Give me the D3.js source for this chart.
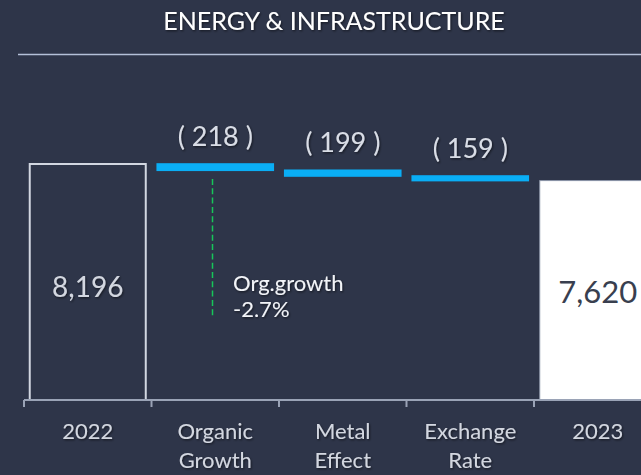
<!DOCTYPE html>
<html>
<head>
<meta charset="utf-8">
<script src="https://cdn.jsdelivr.net/npm/d3@7/dist/d3.min.js"></script>
<style>
  html, body { margin: 0; padding: 0; background: #2e3549; }
  svg { display: block; }
  text { font-family: Lato, "Open Sans", sans-serif; }
</style>
</head>
<body>
<svg id="chart" width="641" height="475"></svg>
<script>
// Waterfall: 2022 sales bridged to 2023 through three negative effects
const categories = ["2022", "Organic Growth", "Metal Effect", "Exchange Rate", "2023"];
const categoryLines = [["2022"], ["Organic", "Growth"], ["Metal", "Effect"], ["Exchange", "Rate"], ["2023"]];
const startValue = 8196;
const deltas = [-218, -199, -159];
const endValue = 7620;
const deltaLabels = ["( 218 )", "( 199 )", "( 159 )"];
const totalLabels = ["8,196", "7,620"];
const organicNote = ["Org.growth", "-2.7%"];
const titleText = "ENERGY & INFRASTRUCTURE";

const W = 641, H = 475;
const svg = d3.select("#chart");

svg.append("rect").attr("width", W).attr("height", H).attr("fill", "#2e3549");

const defs = svg.append("defs");
defs.append("filter").attr("id", "shadow")
  .attr("x", "-10%").attr("y", "-20%").attr("width", "130%").attr("height", "160%")
  .append("feDropShadow")
  .attr("dx", 1).attr("dy", 1.2).attr("stdDeviation", 0.8)
  .attr("flood-color", "#000").attr("flood-opacity", 0.55);

// Title and rule
svg.append("text")
  .attr("x", 334).attr("y", 30)
  .attr("text-anchor", "middle")
  .attr("font-size", 25)
  .attr("fill", "#ffffff")
  .attr("filter", "url(#shadow)")
  .text(titleText);

svg.append("line")
  .attr("x1", 18).attr("x2", W).attr("y1", 54.5).attr("y2", 54.5)
  .attr("stroke", "#b4c0d8").attr("stroke-width", 1.6);

// Scales
const x = d3.scaleBand()
  .domain(categories)
  .range([24, 24 + 127.5 * categories.length])
  .paddingInner(0.09)
  .paddingOuter(0.045);

const y = d3.scaleLinear()
  .domain([0, startValue])
  .range([400, 164]);

// Build the steps of the bridge
let running = startValue;
const steps = deltas.map((d, i) => {
  const from = running;
  running += d;
  return { cat: categories[i + 1], from, to: running, label: deltaLabels[i] };
});

const bw = x.bandwidth();

// Opening total: outlined box
svg.append("rect")
  .attr("x", x(categories[0])).attr("y", y(startValue))
  .attr("width", bw).attr("height", y(0) - y(startValue))
  .attr("fill", "none")
  .attr("stroke", "#d2d7e1").attr("stroke-width", 2);

// Closing total: solid white bar
svg.append("rect")
  .attr("x", x(categories[4])).attr("y", y(endValue))
  .attr("width", bw).attr("height", y(0) - y(endValue))
  .attr("fill", "#ffffff")
  .attr("stroke", "#8a93a6").attr("stroke-width", 1);

// Floating delta bars
svg.selectAll("rect.delta")
  .data(steps)
  .join("rect")
  .attr("class", "delta")
  .attr("x", d => x(d.cat))
  .attr("y", d => y(d.from))
  .attr("width", bw)
  .attr("height", d => y(d.to) - y(d.from))
  .attr("fill", "#0aaef5")
  .attr("stroke", "#0aaef5").attr("stroke-width", 1.6);

// Delta labels above each bar
svg.selectAll("text.dlabel")
  .data(steps)
  .join("text")
  .attr("class", "dlabel")
  .attr("x", d => x(d.cat) + bw / 2)
  .attr("y", d => y(d.from) - 18)
  .attr("text-anchor", "middle")
  .attr("font-size", 27)
  .attr("fill", "#d9dde6")
  .attr("filter", "url(#shadow)")
  .text(d => d.label);

// Total labels inside the total bars
svg.append("text")
  .attr("x", x(categories[0]) + bw / 2)
  .attr("y", (y(startValue) + y(0)) / 2 + 15)
  .attr("text-anchor", "middle")
  .attr("font-size", 28)
  .attr("fill", "#d3d7e0")
  .attr("filter", "url(#shadow)")
  .text(totalLabels[0]);

svg.append("text")
  .attr("x", x(categories[4]) + bw / 2)
  .attr("y", (y(endValue) + y(0)) / 2 + 13)
  .attr("text-anchor", "middle")
  .attr("font-size", 31)
  .attr("fill", "#393f4f")
  .text(totalLabels[1]);

// Organic growth annotation
const noteX = 212.5;
svg.append("line")
  .attr("x1", noteX).attr("x2", noteX)
  .attr("y1", 179).attr("y2", 316)
  .attr("stroke", "#17c65a").attr("stroke-width", 1.5)
  .attr("stroke-dasharray", "6,3.3");

svg.append("text")
  .attr("x", 233).attr("y", 291)
  .attr("font-size", 22)
  .attr("fill", "#f2f4f8")
  .attr("filter", "url(#shadow)")
  .selectAll("tspan")
  .data(organicNote)
  .join("tspan")
  .attr("x", 233)
  .attr("dy", (d, i) => i === 0 ? 0 : 26)
  .text(d => d);

// Axis: baseline with ticks at band boundaries
const gap = x.step() * x.paddingInner() / 2;
const axis = svg.append("g");
axis.append("line")
  .attr("x1", x(categories[0]) - gap).attr("x2", W)
  .attr("y1", 400).attr("y2", 400)
  .attr("stroke", "#9aa3b6").attr("stroke-width", 2);
axis.selectAll("line.tick")
  .data(categories)
  .join("line")
  .attr("class", "tick")
  .attr("x1", d => x(d) - gap).attr("x2", d => x(d) - gap)
  .attr("y1", 400).attr("y2", 407)
  .attr("stroke", "#9aa3b6").attr("stroke-width", 2);

// Category labels
axis.selectAll("text.cat")
  .data(categories)
  .join("text")
  .attr("class", "cat")
  .attr("x", d => x(d) + bw / 2)
  .attr("y", 439)
  .attr("text-anchor", "middle")
  .attr("font-size", 22)
  .attr("fill", "#d3d7e0")
  .attr("filter", "url(#shadow)")
  .each(function (d, i) {
    d3.select(this).selectAll("tspan")
      .data(categoryLines[i])
      .join("tspan")
      .attr("x", x(d) + bw / 2)
      .attr("dy", (t, j) => j === 0 ? 0 : 29)
      .text(t => t);
  });
</script>
</body>
</html>
